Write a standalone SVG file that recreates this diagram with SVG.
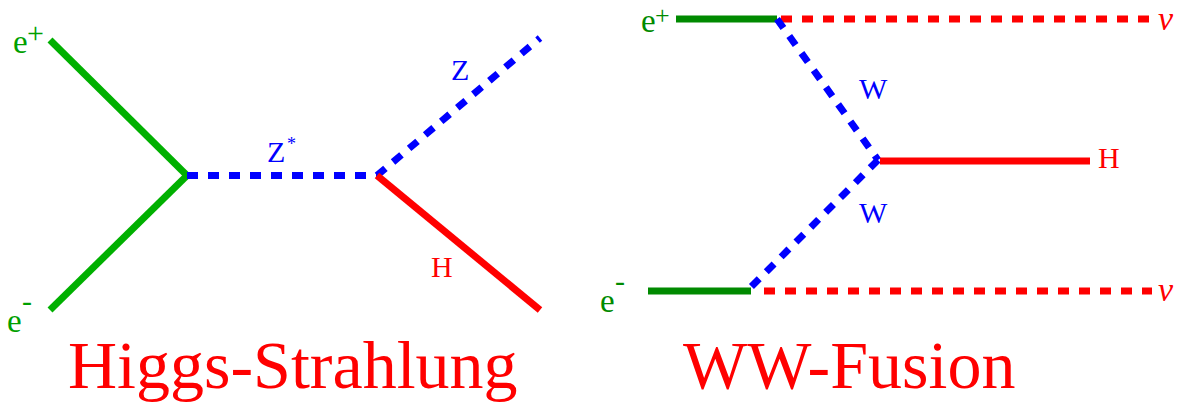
<svg xmlns="http://www.w3.org/2000/svg" width="1177" height="403" viewBox="0 0 1177 403">
<style>
text{font-family:'Liberation Serif','DejaVu Serif',serif}
.lbl{font-size:30px}
.el{font-size:33px}
.sup{font-size:26px}
.title{font-size:68px;fill:#ff0000}
.nu{font-size:34px;font-style:italic}
.g1{stroke:#00b000;stroke-width:7;fill:none}
.g2{stroke:#008a00;stroke-width:7;fill:none}
.bd{stroke:#0000ff;stroke-width:7;stroke-dasharray:11 10;fill:none}
.rd{stroke:#ff0000;stroke-width:7;stroke-dasharray:11 10;fill:none}
.rs{stroke:#ff0000;stroke-width:7;fill:none}
.cg1{fill:#00a000}
.cg2{fill:#008a00}
.cb{fill:#0000ff}
.cr{fill:#ff0000}
</style>
<rect width="1177" height="403" fill="#ffffff"/>
<g id="connectors">
<line class="g1" x1="50" y1="40" x2="187" y2="175.5"/>
<line class="g1" x1="50" y1="310" x2="187" y2="175.5"/>
<line class="bd" x1="187" y1="175.5" x2="377" y2="175.5"/>
<line class="bd" x1="377" y1="175.5" x2="540" y2="38"/>
<line class="rs" x1="377" y1="175.5" x2="540" y2="310"/>
<line class="g2" x1="676" y1="19" x2="777" y2="19"/>
<line class="rd" x1="781" y1="19" x2="1152" y2="19"/>
<line class="bd" x1="777" y1="19" x2="878" y2="160"/>
<line class="bd" x1="878" y1="160" x2="747" y2="291"/>
<line class="rs" x1="880" y1="161" x2="1090" y2="161"/>
<line class="g2" x1="648" y1="291" x2="751" y2="291"/>
<line class="rd" x1="764" y1="291" x2="1152" y2="291"/>
</g>
<g id="hs-eplus"><text class="el cg1" x="13" y="53">e</text><text class="lbl cg1" x="27" y="43">+</text></g>
<g id="hs-eminus"><text class="el cg1" x="7" y="332">e</text><text class="lbl cg1" x="22" y="311">-</text></g>
<g id="hs-zstar"><text class="lbl cb" x="267" y="162">Z</text><text class="cb" style="font-size:18px" x="287" y="150">*</text></g>
<g id="hs-z"><text class="lbl cb" x="451" y="80">Z</text></g>
<g id="hs-h"><text class="lbl cr" x="431" y="277">H</text></g>
<g id="ww-eplus"><text class="el cg2" x="641" y="32">e</text><text class="sup cg2" x="655" y="24">+</text></g>
<g id="ww-eminus"><text class="el cg2" x="600" y="312">e</text><text class="lbl cg2" x="615" y="291">-</text></g>
<g id="ww-w1"><text class="lbl cb" x="859" y="99">W</text></g>
<g id="ww-w2"><text class="lbl cb" x="859" y="223">W</text></g>
<g id="ww-h"><text class="lbl cr" x="1098" y="168">H</text></g>
<g id="ww-nu1"><text class="nu cr" x="1158" y="30">ν</text></g>
<g id="ww-nu2"><text class="nu cr" x="1158" y="301">ν</text></g>
<text class="title" x="68" y="388">Higgs-Strahlung</text>
<text class="title" x="683" y="388">WW-Fusion</text>
</svg>
